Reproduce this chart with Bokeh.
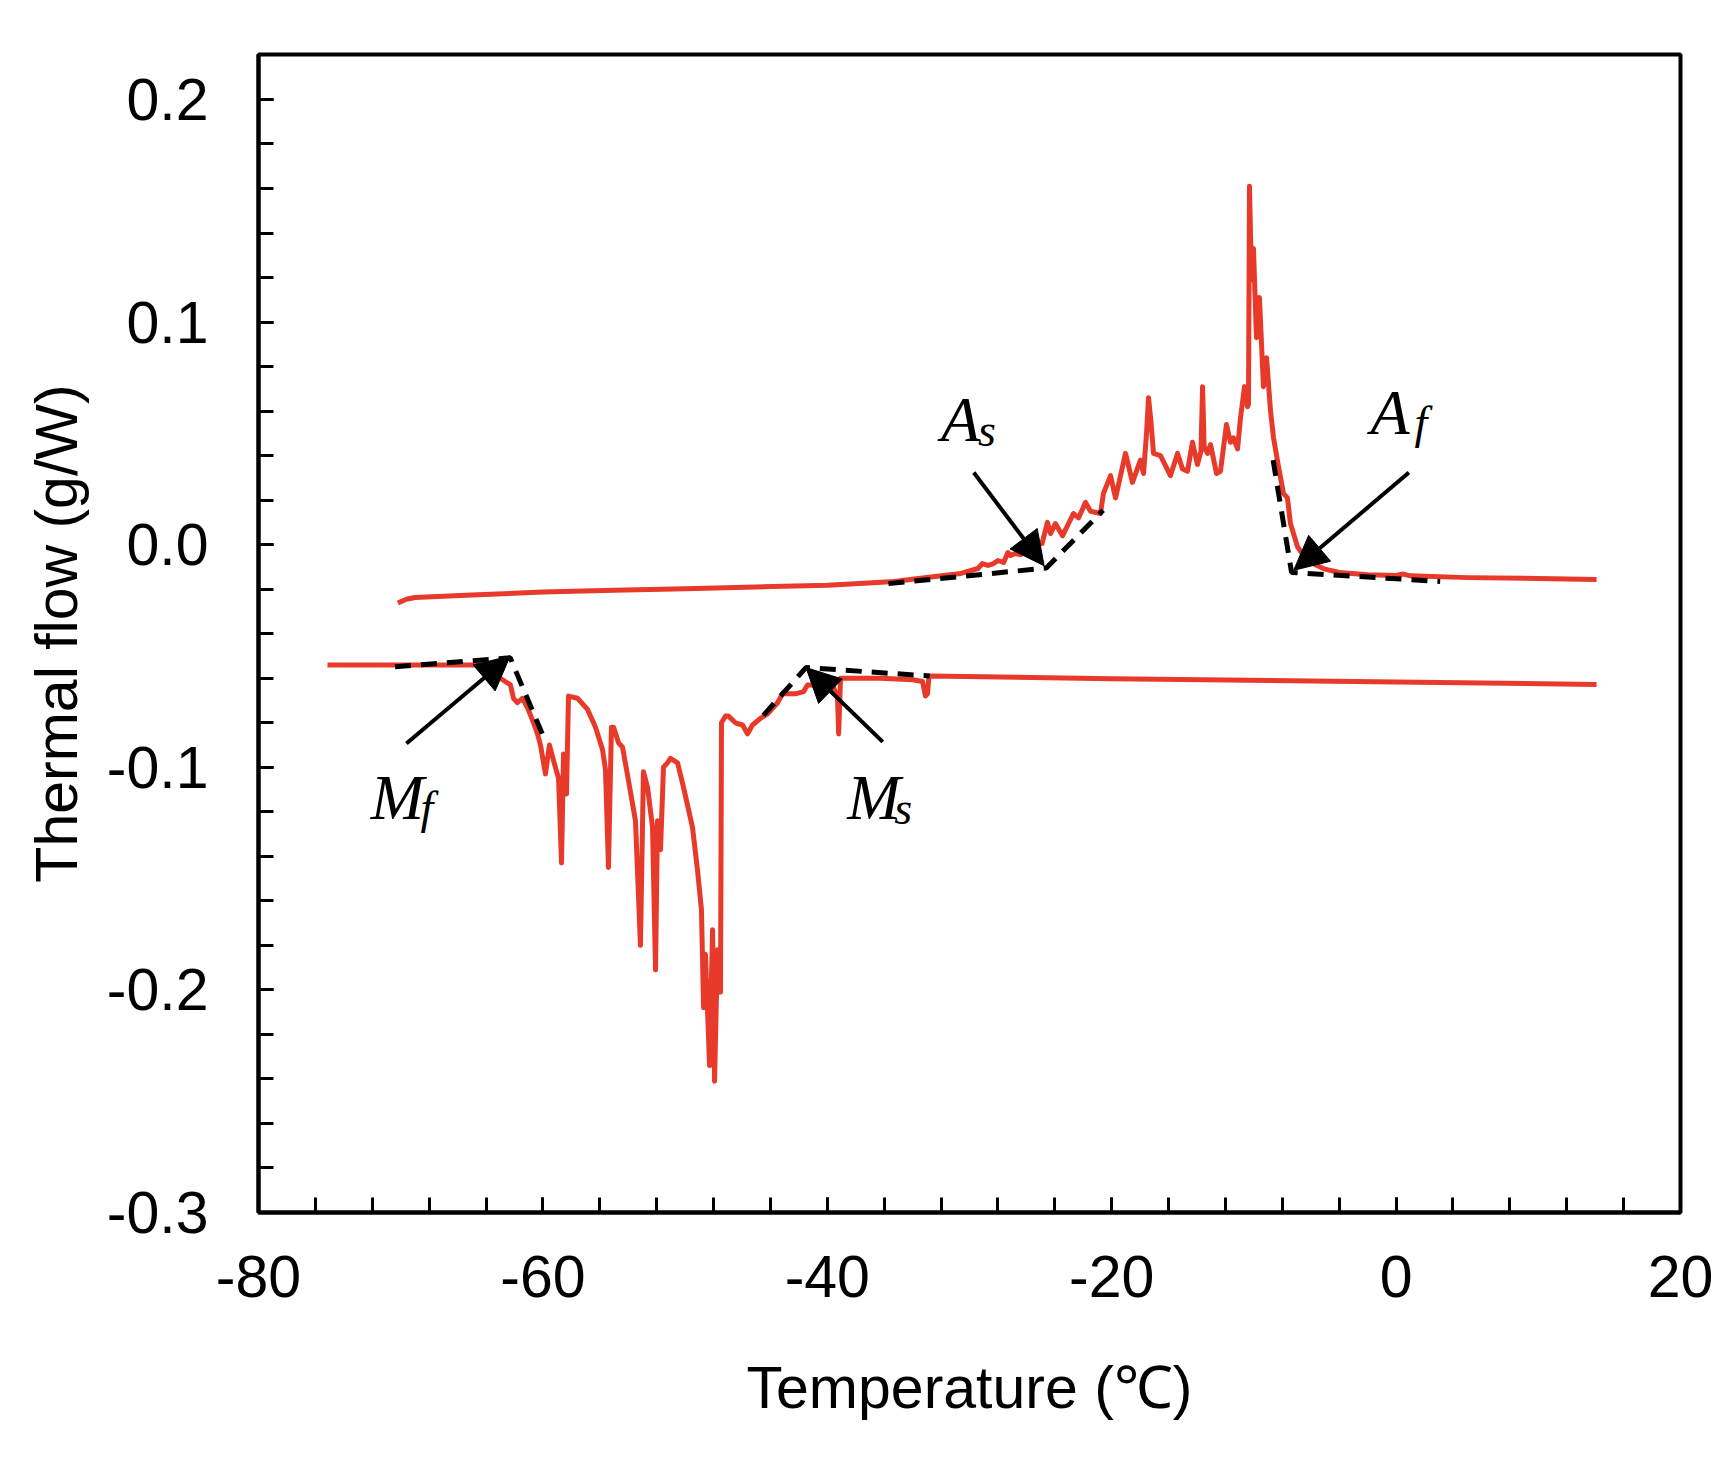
from bokeh.plotting import figure
from bokeh.models import Range1d, FixedTicker, Arrow, NormalHead, PrintfTickFormatter, ColumnDataSource
from bokeh.embed import file_html
from bokeh.resources import INLINE
from bokeh.core.properties import value

# ---------------- data ----------------
# heating curve (upper)
heat_t = [-70.2, -69.6, -69.0, -65.0, -60.0, -55.0, -50.0, -45.0, -40.0, -37.7, -35.3, -33.0,
          -30.6, -29.4, -29.1, -28.7, -28.3, -28.0, -27.6, -27.3, -27.1, -26.8, -26.4, -25.9,
          -25.4, -24.9, -24.52, -24.3, -23.96, -23.46, -22.69, -22.33, -21.84, -21.49, -20.79,
          -20.58, -20.08, -19.73, -19.03, -18.54, -17.98, -17.76, -17.55, -17.41, -17.25, -17.06,
          -16.57, -15.87, -15.37, -15.02, -14.67, -14.32, -13.97, -13.72, -13.61, -13.5, -13.26,
          -13.05, -12.63, -12.35, -11.93, -11.65, -11.44, -11.15, -10.94, -10.66, -10.45, -10.38,
          -10.31, -10.17, -10.03, -9.82, -9.61, -9.33, -9.11, -8.83, -8.62, -8.27, -7.92, -7.64,
          -7.43, -6.93, -6.5, -6.0, -5.0, -4.0, -2.0, 0.0, 0.5, 1.0, 5.0, 10.0, 14.1]
heat_q = [-0.0262, -0.0245, -0.0237, -0.0226, -0.0213, -0.0205, -0.0198, -0.0190, -0.0182, -0.0174,
          -0.0165, -0.0147, -0.0129, -0.0107, -0.0085, -0.0093, -0.0085, -0.0071, -0.0080, -0.0035,
          -0.0049, -0.0040, -0.0045, -0.0004, 0.0010, 0.0005, 0.0100, 0.0050, 0.0095, 0.0040, 0.0140,
          0.0120, 0.0190, 0.0150, 0.0140, 0.0230, 0.0310, 0.0210, 0.0410, 0.0280, 0.0380, 0.0320,
          0.0500, 0.0660, 0.0560, 0.0410, 0.0400, 0.0310, 0.0410, 0.0340, 0.0330, 0.0460, 0.0360,
          0.0420, 0.0710, 0.0440, 0.0410, 0.0450, 0.0320, 0.0330, 0.0540, 0.0460, 0.0480, 0.0430,
          0.0570, 0.0710, 0.0620, 0.0630, 0.1610, 0.1190, 0.1330, 0.0930, 0.1110, 0.0710, 0.0840,
          0.0600, 0.0480, 0.0350, 0.0230, 0.0210, 0.0095, -0.0010, -0.0050, -0.0080, -0.0110,
          -0.0125, -0.0135, -0.0138, -0.0132, -0.0140, -0.0148, -0.0152, -0.0156]

# cooling curve (lower)
cool_t = [-75.15, -70.0, -65.0, -63.6, -63.0, -62.28, -62.07, -61.8, -61.44, -61.1, -60.66, -60.38,
          -60.17, -59.82, -59.54, -59.25, -58.9, -58.69, -58.55, -58.34, -58.2, -57.57, -56.86,
          -56.30, -55.81, -55.6, -55.39, -55.18, -55.03, -54.68, -54.4, -53.98, -53.49, -53.14,
          -52.93, -52.64, -52.29, -52.08, -51.94, -51.73, -51.52, -51.24, -51.03, -50.53, -50.11,
          -49.48, -49.13, -48.85, -48.7, -48.57, -48.28, -48.07, -47.93, -47.72, -47.51, -47.44,
          -47.16, -46.95, -46.46, -45.96, -45.61, -45.26, -44.7, -44.2, -43.5, -43.15, -42.8,
          -42.24, -41.67, -41.39, -41.04, -40.69, -39.56, -39.28, -39.2, -39.07, -36.26, -34.0,
          -33.3, -33.1, -32.95, -32.85, -20.0, 0.0, 14.1]
cool_q = [-0.0540, -0.0540, -0.0540, -0.0545, -0.0600, -0.0630, -0.0690, -0.0710, -0.0690, -0.0730,
          -0.0800, -0.0850, -0.0900, -0.1030, -0.0900, -0.0970, -0.1050, -0.1430, -0.0940, -0.1120,
          -0.0680, -0.0690, -0.0740, -0.0820, -0.0920, -0.1010, -0.1450, -0.0820, -0.0820, -0.0890,
          -0.0910, -0.1060, -0.1240, -0.1800, -0.1020, -0.1090, -0.1270, -0.1910, -0.1240, -0.1370,
          -0.1000, -0.0980, -0.0960, -0.0980, -0.1090, -0.1270, -0.1460, -0.1640, -0.2080, -0.1840,
          -0.2340, -0.1730, -0.2410, -0.1820, -0.2010, -0.0800, -0.0770, -0.0770, -0.0800, -0.0810,
          -0.0850, -0.0810, -0.0780, -0.0760, -0.0710, -0.0670, -0.0670, -0.0670, -0.0660, -0.0630,
          -0.0630, -0.0640, -0.0640, -0.0690, -0.0850, -0.0600, -0.0600, -0.0607, -0.0615, -0.0680,
          -0.0670, -0.0590, -0.0602, -0.0617, -0.0628]

# dashed tangent constructions
as_tan_t = [-35.7, -24.6, -20.6]
as_tan_q = [-0.0175, -0.0105, 0.0155]
af_tan_t = [-8.65, -7.35, 3.1]
af_tan_q = [0.038, -0.0125, -0.0165]
mf_tan_t = [-70.4, -62.3, -60.0]
mf_tan_q = [-0.0548, -0.0508, -0.0857]
ms_tan_t = [-44.5, -41.5, -32.8]
ms_tan_q = [-0.0767, -0.0552, -0.0590]

# arrows: (tail t, tail q, tip t, tip q)
arrow_tail_t = [-29.7, 0.9, -69.6, -36.1]
arrow_tail_q = [0.0324, 0.0324, -0.0893, -0.0886]
arrow_tip_t = [-24.75, -7.2, -62.3, -41.5]
arrow_tip_q = [-0.0095, -0.0115, -0.0500, -0.0552]

# annotation labels
label_main = ["A", "A", "M", "M"]
label_main_t = [-32.0, -1.8, -72.1, -38.6]
label_main_q = [0.0562, 0.0594, -0.1136, -0.1136]
label_sub = ["s", "f", "f", "s"]
label_sub_t = [-29.4, 1.3, -68.6, -35.3]
label_sub_q = [0.0513, 0.0549, -0.1181, -0.1186]

x_major = [-80, -60, -40, -20, 0, 20]
x_minor = list(range(-80, 21, 4))
y_major = [-0.3, -0.2, -0.1, 0.0, 0.1, 0.2]
y_minor = [round(-0.3 + 0.02 * i, 2) for i in range(26)]

RED = "#E83A2B"
FONT = "Liberation Sans"

p = figure(width=1714, height=1458, output_backend="svg", toolbar_location=None,
           x_range=Range1d(-80, 20), y_range=Range1d(-0.3, 0.2202),
           min_border_left=258, min_border_right=34, min_border_top=54, min_border_bottom=246)
p.xgrid.visible = False
p.ygrid.visible = False
p.background_fill_color = "white"
p.border_fill_color = "white"
p.outline_line_color = "black"
p.outline_line_width = 4

p.xaxis.ticker = FixedTicker(ticks=x_major, minor_ticks=x_minor)
p.yaxis.ticker = FixedTicker(ticks=y_major, minor_ticks=y_minor)
p.xaxis.formatter = PrintfTickFormatter(format="%d")
p.yaxis.formatter = PrintfTickFormatter(format="%.1f")

for ax in (p.xaxis, p.yaxis):
    ax.axis_line_width = 4
    ax.axis_line_color = "black"
    ax.major_tick_in = 15
    ax.major_tick_out = 0
    ax.minor_tick_in = 15
    ax.minor_tick_out = 0
    ax.major_tick_line_width = 3
    ax.minor_tick_line_width = 3
    ax.major_tick_line_color = "black"
    ax.minor_tick_line_color = "black"
    ax.major_label_text_font = FONT
    ax.major_label_text_font_size = "59px"
    ax.major_label_text_color = "black"
    ax.axis_label_text_font = FONT
    ax.axis_label_text_font_size = "59px"
    ax.axis_label_text_font_style = "normal"
    ax.axis_label_text_color = "black"

p.xaxis.axis_label = "Temperature (℃)"
p.yaxis.axis_label = "Thermal flow (g/W)"
p.xaxis.major_label_standoff = 43
p.xaxis.axis_label_standoff = 55
p.yaxis.major_label_standoff = 50
p.yaxis.axis_label_standoff = 14

# curves
p.line(heat_t, heat_q, line_color=RED, line_width=5, line_join="round")
p.line(cool_t, cool_q, line_color=RED, line_width=5, line_join="round")

# tangents
for tt, qq in ((as_tan_t, as_tan_q), (af_tan_t, af_tan_q), (mf_tan_t, mf_tan_q), (ms_tan_t, ms_tan_q)):
    p.line(tt, qq, line_color="black", line_width=5, line_dash="16 10")

# arrows
for i in range(len(arrow_tail_t)):
    p.add_layout(Arrow(end=NormalHead(size=34, fill_color="black", line_color="black", line_width=1),
                       x_start=arrow_tail_t[i], y_start=arrow_tail_q[i],
                       x_end=arrow_tip_t[i], y_end=arrow_tip_q[i],
                       line_color="black", line_width=4))

# labels
src_main = ColumnDataSource(dict(x=label_main_t, y=label_main_q, text=label_main))
src_sub = ColumnDataSource(dict(x=label_sub_t, y=label_sub_q, text=label_sub))
p.text(x="x", y="y", text="text", source=src_main, text_font=value("Liberation Serif"),
       text_font_style="italic", text_font_size="64px", text_color="black",
       text_align="left", text_baseline="alphabetic")
p.text(x="x", y="y", text="text", source=src_sub, text_font=value("Liberation Serif"),
       text_font_style="italic", text_font_size="46px", text_color="black",
       text_align="left", text_baseline="alphabetic")

open("out.html", "w").write(file_html(p, INLINE))
